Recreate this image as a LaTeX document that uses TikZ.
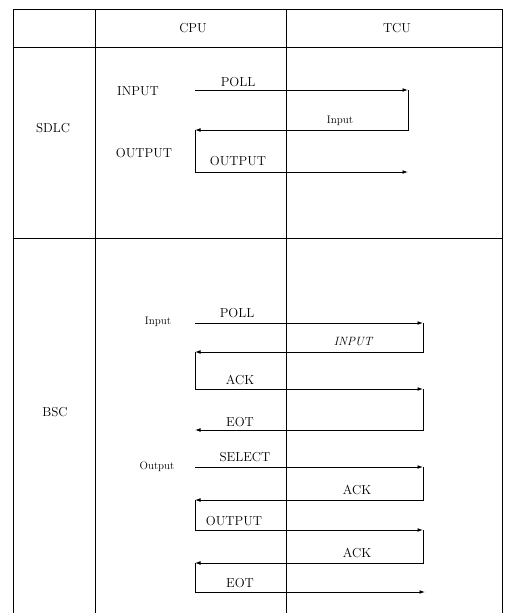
\documentclass[tikz,border=0pt]{standalone}
\usepackage{fontspec}
\usetikzlibrary{arrows.meta}
\tikzset{
  grid/.style={line width=0.9pt},
  msg/.style={line width=0.85pt,-{Latex[length=5.5pt,width=3.8pt]}},
  capl/.style={inner sep=0pt,font=\fontsize{13}{15}\selectfont\addfontfeatures{LetterSpace=8}},
  smalll/.style={inner sep=0pt,font=\fontsize{11}{13}\selectfont\addfontfeatures{LetterSpace=8}},
  itall/.style={inner sep=0pt,font=\fontsize{12}{14}\selectfont\itshape\addfontfeatures{LetterSpace=8}}
}
\begin{document}
\begin{tikzpicture}[x=1pt,y=-1pt]
\useasboundingbox (0,0) rectangle (504,613);
% table
\draw[grid] (13,9) -- (502.5,9);
\draw[grid] (13,47) -- (502.5,47);
\draw[grid] (13,238) -- (502.5,238);
\draw[grid] (13,9) -- (13,613);
\draw[grid] (95,9) -- (95,613);
\draw[grid] (286,9) -- (286,613);
\draw[grid] (502.5,9) -- (502.5,613);
% headers
\node[capl] (hcpu) at (193,28) {CPU};
\node[capl] (htcu) at (397,28) {TCU};
\node[capl] (sdlc) at (53,128) {SDLC};
\node[capl] (bsc) at (55,412) {BSC};
% SDLC coordinates
\coordinate (s1a) at (195,90);
\coordinate (s1b) at (408,90);
\coordinate (s2b) at (408,130);
\coordinate (s2a) at (195,130);
\coordinate (s3a) at (195,172);
\coordinate (s3b) at (408,172);
\draw[msg] (s1a) -- (s1b);
\draw[msg] (s1b) -- (s2b) -- (s2a);
\draw[msg] (s2a) -- (s3a) -- (s3b);
\node[capl] (sin) at (138,91) {INPUT};
\node[capl] (spoll) at (238,82) {POLL};
\node[smalll] (sinp) at (340,121) {Input};
\node[capl] (sout) at (144,153) {OUTPUT};
\node[capl] (soutm) at (238,161) {OUTPUT};
% BSC input
\coordinate (b1a) at (195,323);
\coordinate (b1b) at (423,323);
\coordinate (b2b) at (423,352);
\coordinate (b2a) at (195,352);
\coordinate (b3a) at (195,389);
\coordinate (b3b) at (423,389);
\coordinate (b4b) at (423,430);
\coordinate (b4a) at (195,430);
\draw[msg] (b1a) -- (b1b);
\draw[msg] (b1b) -- (b2b) -- (b2a);
\draw[msg] (b2a) -- (b3a) -- (b3b);
\draw[msg] (b3b) -- (b4b) -- (b4a);
\node[smalll] (bin) at (158,322) {Input};
\node[capl] (bpoll) at (237,313) {POLL};
\node[itall] (binp) at (353,342) {INPUT};
\node[capl] (back1) at (240,380) {ACK};
\node[capl] (beot1) at (240,422) {EOT};
% BSC output
\coordinate (c1a) at (195,467);
\coordinate (c1b) at (423,467);
\coordinate (c2b) at (423,500);
\coordinate (c2a) at (195,500);
\coordinate (c3a) at (195,530);
\coordinate (c3b) at (423,530);
\coordinate (c4b) at (423,563);
\coordinate (c4a) at (195,563);
\coordinate (c5a) at (195,592);
\coordinate (c5b) at (425,592);
\draw[msg] (c1a) -- (c1b);
\draw[msg] (c1b) -- (c2b) -- (c2a);
\draw[msg] (c2a) -- (c3a) -- (c3b);
\draw[msg] (c3b) -- (c4b) -- (c4a);
\draw[msg] (c4a) -- (c5a) -- (c5b);
\node[smalll] (bout) at (157,467) {Output};
\node[capl] (bsel) at (245,457) {SELECT};
\node[capl] (back2) at (357,490) {ACK};
\node[capl] (bouto) at (234,521) {OUTPUT};
\node[capl] (back3) at (357,553) {ACK};
\node[capl] (beot2) at (240,583) {EOT};
\end{tikzpicture}
\end{document}
